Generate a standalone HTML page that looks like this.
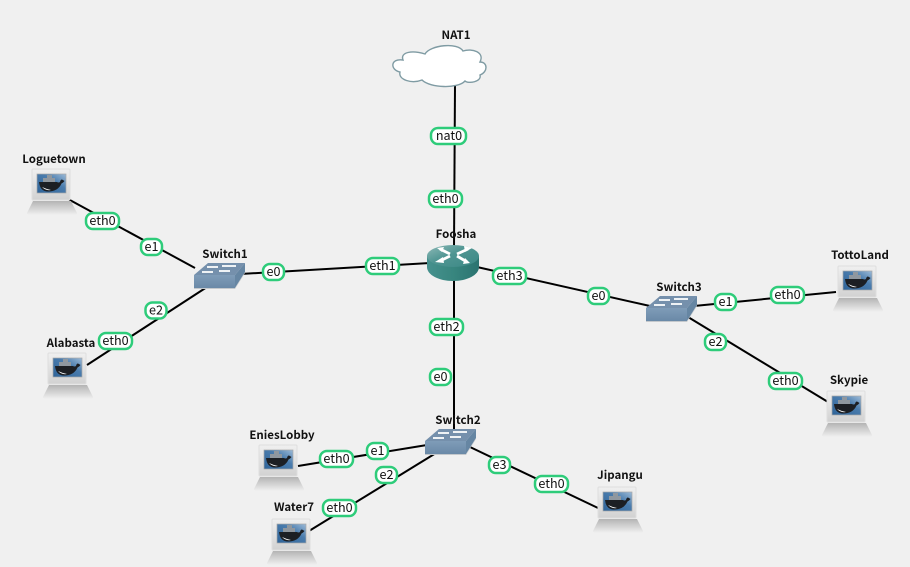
<!DOCTYPE html>
<html><head><meta charset="utf-8">
<style>
html,body{margin:0;padding:0;background:#f0f0f0;width:910px;height:567px;overflow:hidden}
svg{display:block}
.n{font:bold 11.5px "Noto Sans CJK JP","DejaVu Sans","Liberation Sans",sans-serif;fill:#111;text-anchor:middle}
.l{font:12.6px "Noto Sans CJK JP","DejaVu Sans","Liberation Sans",sans-serif;fill:#111;text-anchor:middle}
.p{fill:#fff;stroke:#2ecc7a;stroke-width:2.5}
.k{stroke:#000;stroke-width:2;fill:none}
</style></head><body>
<svg width="910" height="567" viewBox="0 0 910 567" xmlns="http://www.w3.org/2000/svg">
<defs>
<linearGradient id="base" x1="0" y1="0" x2="0" y2="1"><stop offset="0" stop-color="#b4b4b4"/><stop offset="1" stop-color="#f0f0f0"/></linearGradient>
<linearGradient id="scr" x1="0" y1="1" x2="1" y2="0"><stop offset="0" stop-color="#2f6499"/><stop offset=".6" stop-color="#4a7cad"/><stop offset="1" stop-color="#9dbbd8"/></linearGradient>
<linearGradient id="mon" x1="0" y1="0" x2="0" y2="1"><stop offset="0" stop-color="#f0f0f0"/><stop offset="1" stop-color="#d2d2d2"/></linearGradient>
<linearGradient id="rt" x1="0" y1="0" x2="1" y2="0"><stop offset="0" stop-color="#46918e"/><stop offset=".5" stop-color="#38867f"/><stop offset="1" stop-color="#2b7370"/></linearGradient>
<linearGradient id="rtop" x1="0" y1="0" x2="1" y2="1"><stop offset="0" stop-color="#8fbab8"/><stop offset=".45" stop-color="#4f9592"/><stop offset="1" stop-color="#3b8885"/></linearGradient>
<linearGradient id="sw" x1="0" y1="0" x2="0" y2="1"><stop offset="0" stop-color="#7f9cb8"/><stop offset="1" stop-color="#6a89a7"/></linearGradient>
<g id="pc">
<path d="M6 33H44L50 45Q50 47 47 47H3Q0 47 0 45Z" fill="url(#base)"/>
<rect x="5" y="1" width="38" height="31" rx="1" fill="url(#mon)" stroke="#dedede"/>
<rect x="10" y="6" width="29" height="19" fill="url(#scr)" stroke="#a8a8a8" stroke-width=".7"/>
<g fill="#8f979f">
<rect x="16" y="10" width="12" height="4"/>
<rect x="20" y="7" width="5" height="3"/>
</g>
<path d="M12 14H30Q31.500 15 33 14Q33.500 11.500 35 11.500Q36 12 37.500 13Q36 15 34.500 15.500Q31 23.500 21 23.500Q13 23.500 12 14Z" fill="#1c1f24"/>
<path d="M15 19Q19 23 24 22Q19 21 15 19Z" fill="#fff"/>
</g>
<g id="sw1">
<path d="M0 12L14 0H51L41 12Z" fill="#7590ac"/>
<path d="M0 12H41V25H0Z" fill="url(#sw)"/>
<path d="M41 12L51 0V9L41 25Z" fill="#6686a3"/>
<path d="M41 25H0V26H41L51 10V9Z" fill="#c4c8cc"/>
<g stroke="#fff" stroke-width="1.800" fill="none">
<path d="M13 4H24M28 3H42M8 9H19M25 8H36"/>
</g>
</g>
</defs>

<!-- links -->
<g class="k">
<line x1="68" y1="199" x2="195" y2="268"/>
<line x1="87" y1="365" x2="207" y2="287"/>
<line x1="240" y1="274" x2="430" y2="263"/>
<line x1="455" y1="85" x2="454" y2="248"/>
<line x1="454" y1="278" x2="454" y2="432"/>
<line x1="477" y1="267" x2="650" y2="306"/>
<line x1="694" y1="306" x2="836" y2="292"/>
<line x1="688" y1="317" x2="828" y2="402"/>
<line x1="298" y1="466" x2="427" y2="445"/>
<line x1="309" y1="531" x2="436" y2="453"/>
<line x1="470" y1="447" x2="598" y2="508"/>
</g>

<!-- cloud -->
<path d="M403 60C400 52 412 50 425 54C430 45 458 42 463 51C472 48 485 52 480 62C488 62 488 72 480 75C482 82 468 84 465 81C458 89 430 88 422 80C412 84 398 80 400 72C390 70 390 58 403 60Z" fill="#fff" stroke="#7f9ba3" stroke-width="1.400"/>

<!-- router -->
<path d="M427 256V267C427 275 439 281 453 281C467 281 479 275 479 267V256Z" fill="url(#rt)"/>
<ellipse cx="453" cy="256" rx="26" ry="11" fill="url(#rtop)"/>
<g stroke="#fff" stroke-width="2.800" fill="none">
<path d="M440 249L450 254M468 249L457 254M457 256L467 262M450 256L440 261"/>
</g>
<path d="M435 262L443 257L444 263Z M472 248L464 246L465 252Z M437 248L444 247L442 252Z M470 263L463 264L465 258Z" fill="#fff"/>

<!-- switches -->
<use href="#sw1" x="194" y="263"/>
<use href="#sw1" x="646" y="296"/>
<use href="#sw1" x="425" y="429"/>

<!-- computers -->
<use href="#pc" x="27" y="168"/>
<use href="#pc" x="43" y="352"/>
<use href="#pc" x="254" y="444"/>
<use href="#pc" x="267" y="518"/>
<use href="#pc" x="593" y="486"/>
<use href="#pc" x="822" y="390"/>
<use href="#pc" x="833" y="265"/>

<!-- pills -->
<rect class="p" x="431" y="128" width="35" height="16" rx="7"/><text class="l" x="449" y="140">nat0</text>
<rect class="p" x="429" y="191" width="33" height="16" rx="7"/><text class="l" x="445.500" y="203">eth0</text>
<rect class="p" x="86" y="213" width="33" height="16" rx="7"/><text class="l" x="102.500" y="225">eth0</text>
<rect class="p" x="141" y="239" width="21" height="16" rx="7"/><text class="l" x="151.500" y="251">e1</text>
<rect class="p" x="145.500" y="302.500" width="21" height="16" rx="7"/><text class="l" x="156" y="314.500">e2</text>
<rect class="p" x="99" y="333" width="33" height="16" rx="7"/><text class="l" x="115.500" y="345">eth0</text>
<rect class="p" x="263" y="264" width="21" height="16" rx="7"/><text class="l" x="273.500" y="276">e0</text>
<rect class="p" x="366" y="258" width="33" height="16" rx="7"/><text class="l" x="382.500" y="270">eth1</text>
<rect class="p" x="493" y="268" width="33" height="16" rx="7"/><text class="l" x="509.500" y="280">eth3</text>
<rect class="p" x="588" y="288" width="21" height="16" rx="7"/><text class="l" x="598.500" y="300">e0</text>
<rect class="p" x="430" y="319" width="33" height="16" rx="7"/><text class="l" x="446.500" y="331">eth2</text>
<rect class="p" x="430" y="369" width="21" height="16" rx="7"/><text class="l" x="440.500" y="381">e0</text>
<rect class="p" x="715" y="294" width="21" height="16" rx="7"/><text class="l" x="725.500" y="306">e1</text>
<rect class="p" x="771" y="287" width="33" height="16" rx="7"/><text class="l" x="787.500" y="299">eth0</text>
<rect class="p" x="705" y="334" width="21" height="16" rx="7"/><text class="l" x="715.500" y="346">e2</text>
<rect class="p" x="769" y="373" width="33" height="16" rx="7"/><text class="l" x="785.500" y="385">eth0</text>
<rect class="p" x="320" y="451" width="33" height="16" rx="7"/><text class="l" x="336.500" y="463">eth0</text>
<rect class="p" x="367" y="443" width="21" height="16" rx="7"/><text class="l" x="377.500" y="455">e1</text>
<rect class="p" x="376" y="467" width="21" height="16" rx="7"/><text class="l" x="386.500" y="479">e2</text>
<rect class="p" x="323" y="500" width="33" height="16" rx="7"/><text class="l" x="339.500" y="512">eth0</text>
<rect class="p" x="489" y="457" width="21" height="16" rx="7"/><text class="l" x="499.500" y="469">e3</text>
<rect class="p" x="535" y="476" width="33" height="16" rx="7"/><text class="l" x="551.500" y="488">eth0</text>

<!-- node names -->
<text class="n" x="456" y="39">NAT1</text>
<text class="n" x="54" y="163">Loguetown</text>
<text class="n" x="225" y="258">Switch1</text>
<text class="n" x="456" y="238">Foosha</text>
<text class="n" x="860" y="259">TottoLand</text>
<text class="n" x="679" y="291">Switch3</text>
<text class="n" x="71" y="347">Alabasta</text>
<text class="n" x="849" y="384">Skypie</text>
<text class="n" x="282" y="439">EniesLobby</text>
<text class="n" x="458" y="424">Switch2</text>
<text class="n" x="294" y="511">Water7</text>
<text class="n" x="620" y="479">Jipangu</text>
</svg>
</body></html>
